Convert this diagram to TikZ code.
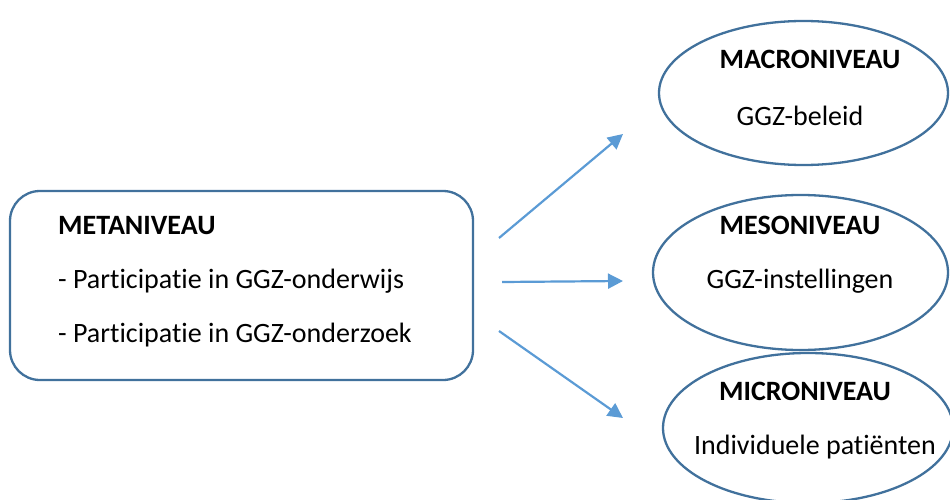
\documentclass[tikz,border=0pt]{standalone}
\usepackage{fontspec}
\setmainfont{Carlito}[Ligatures={NoCommon}]
\usetikzlibrary{arrows.meta,shapes.geometric}
\definecolor{borderblue}{HTML}{41719C}
\definecolor{arrowblue}{HTML}{5B9BD5}
\begin{document}
\begin{tikzpicture}[x=1pt,y=-1pt,
  shapeline/.style={draw=borderblue,line width=2.3pt},
  txt/.style={font=\fontsize{28}{32}\selectfont,inner sep=0pt},
  btxt/.style={font=\fontsize{28}{32}\selectfont\bfseries,inner sep=0pt},
  flow/.style={draw=arrowblue,line width=2.2pt,-{Triangle[length=15pt,width=15pt]}}]
\useasboundingbox (0,0) rectangle (950,500);
% left box
\node[shapeline,rounded corners=30pt,minimum width=463pt,minimum height=189pt] (meta) at (241.5,285.5) {};
\node[btxt,anchor=west] (metat) at (58,226) {METANIVEAU};
\node[txt,anchor=west] (m1) at (58,281) {- Participatie in GGZ-onderwijs};
\node[txt,anchor=west] (m2) at (58,335) {- Participatie in GGZ-onderzoek};
% ellipses
\node[shapeline,ellipse,minimum width=289pt,minimum height=144pt,inner sep=0pt] (macro) at (803.5,93) {};
\node[shapeline,ellipse,minimum width=295pt,minimum height=155pt,inner sep=0pt] (meso) at (800.5,272.5) {};
\node[shapeline,ellipse,minimum width=290pt,minimum height=150pt,inner sep=0pt] (micro) at (808,428) {};
\node[btxt] (macrot) at (810,59) {MACRONIVEAU};
\node[txt] (macrob) at (800,116) {GGZ-beleid};
\node[btxt] (mesot) at (800,225) {MESONIVEAU};
\node[txt] (mesob) at (800,281) {GGZ-instellingen};
\node[btxt] (microt) at (805,391) {MICRONIVEAU};
\node[txt] (microb) at (815,447) {Individuele patiënten};
% arrows
\coordinate (s1) at (499,238);
\coordinate (e1) at (623,134);
\coordinate (s2) at (502,282);
\coordinate (e2) at (623,281);
\coordinate (s3) at (499,331);
\coordinate (e3) at (623,418);
\draw[flow] (s1) -- (e1);
\draw[flow] (s2) -- (e2);
\draw[flow] (s3) -- (e3);
\end{tikzpicture}
\end{document}
